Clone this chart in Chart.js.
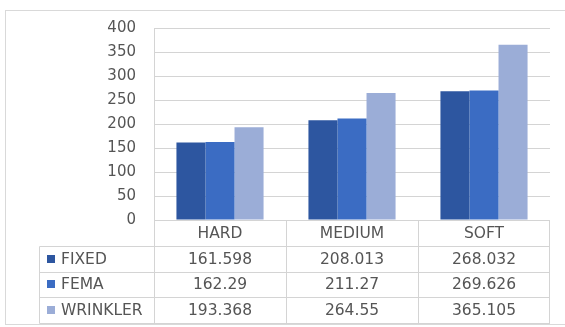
<!DOCTYPE html>
<html>
<head>
<meta charset="utf-8">
<script src="https://cdn.jsdelivr.net/npm/chart.js@4/dist/chart.umd.min.js"></script>
<style>
  html, body { margin: 0; padding: 0; background: #fff; }
  canvas { display: block; }
</style>
</head>
<body>
<canvas id="soilChart" width="565" height="327"></canvas>
<script>
const categories = ['HARD', 'MEDIUM', 'SOFT'];
const seriesNames = ['FIXED', 'FEMA', 'WRINKLER'];
const fixedValues = [161.598, 208.013, 268.032];
const femaValues = [162.29, 211.27, 269.626];
const wrinklerValues = [193.368, 264.55, 365.105];
const seriesColors = ['#2d56a0', '#3b6cc3', '#9badd7'];

const FONT = '"DejaVu Sans", sans-serif';
const TEXT = '#555555';
const LINE = '#d4d4d4';

// data table under the plot, laid out from the x scale
const dataTable = {
  id: 'dataTable',
  beforeDraw(chart) {
    const c = chart.ctx;
    c.save();
    c.strokeStyle = '#d9d9d9';
    c.lineWidth = 1;
    c.strokeRect(5.5, 10.5, 600, 314);
    c.restore();
  },
  afterDraw(chart) {
    const c = chart.ctx;
    const x = chart.scales.x;
    const y = chart.scales.y;
    const top = Math.round(y.getPixelForValue(0)) + 0.5;
    const rowH = 25.5;
    const half = (x.getPixelForTick(1) - x.getPixelForTick(0)) / 2;
    const left = x.left, right = x.right;
    const labelLeft = 39.5;
    const rows = [fixedValues, femaValues, wrinklerValues];

    c.save();
    c.strokeStyle = LINE;
    c.lineWidth = 1;
    c.beginPath();
    // header row
    c.moveTo(left, top); c.lineTo(right, top);
    // series rows
    for (let r = 1; r <= rows.length + 1; r++) {
      const yy = Math.round(top + r * rowH) + 0.5;
      c.moveTo(labelLeft, yy); c.lineTo(right, yy);
    }
    const bottom = Math.round(top + (rows.length + 1) * rowH) + 0.5;
    c.moveTo(labelLeft, Math.round(top + rowH) + 0.5); c.lineTo(labelLeft, bottom);
    categories.forEach((_, i) => {
      const xx = Math.round(x.getPixelForTick(i) - half) + 0.5;
      c.moveTo(xx, top); c.lineTo(xx, bottom);
    });
    c.moveTo(Math.round(right) - 0.5, top); c.lineTo(Math.round(right) - 0.5, bottom);
    c.stroke();

    c.fillStyle = TEXT;
    c.font = '15.5px ' + FONT;
    c.textAlign = 'center';
    c.textBaseline = 'middle';
    categories.forEach((cat, i) => {
      c.fillText(cat, x.getPixelForTick(i), top + rowH / 2 + 1);
    });
    rows.forEach((vals, r) => {
      const cy = top + (r + 1) * rowH + rowH / 2 + 1;
      vals.forEach((v, i) => {
        c.fillText(String(v), x.getPixelForTick(i), cy);
      });
      c.fillStyle = seriesColors[r];
      c.fillRect(47, Math.round(cy - 5), 8, 8);
      c.fillStyle = TEXT;
      c.textAlign = 'left';
      c.fillText(seriesNames[r], 61, cy);
      c.textAlign = 'center';
    });
    c.restore();
  }
};

const ctx = document.getElementById('soilChart').getContext('2d');

const soilChart = new Chart(ctx, {
  type: 'bar',
  data: {
    labels: categories,
    datasets: [
      { label: seriesNames[0], data: fixedValues, backgroundColor: seriesColors[0] },
      { label: seriesNames[1], data: femaValues, backgroundColor: seriesColors[1] },
      { label: seriesNames[2], data: wrinklerValues, backgroundColor: seriesColors[2] }
    ]
  },
  options: {
    responsive: false,
    animation: false,
    devicePixelRatio: 1,
    datasets: {
      bar: { barPercentage: 1, categoryPercentage: 0.66 }
    },
    layout: {
      padding: { left: 0, top: 28, right: 15, bottom: 107 }
    },
    plugins: {
      legend: { display: false },
      tooltip: { enabled: false }
    },
    scales: {
      x: {
        display: false
      },
      y: {
        min: 0,
        max: 400,
        afterFit(scale) { scale.width = 154; },
        ticks: {
          stepSize: 50,
          padding: 18,
          color: TEXT,
          font: { family: FONT, size: 15 }
        },
        grid: {
          color: LINE,
          drawTicks: false
        },
        border: { display: true, color: LINE }
      }
    }
  },
  plugins: [dataTable]
});
</script>
</body>
</html>
